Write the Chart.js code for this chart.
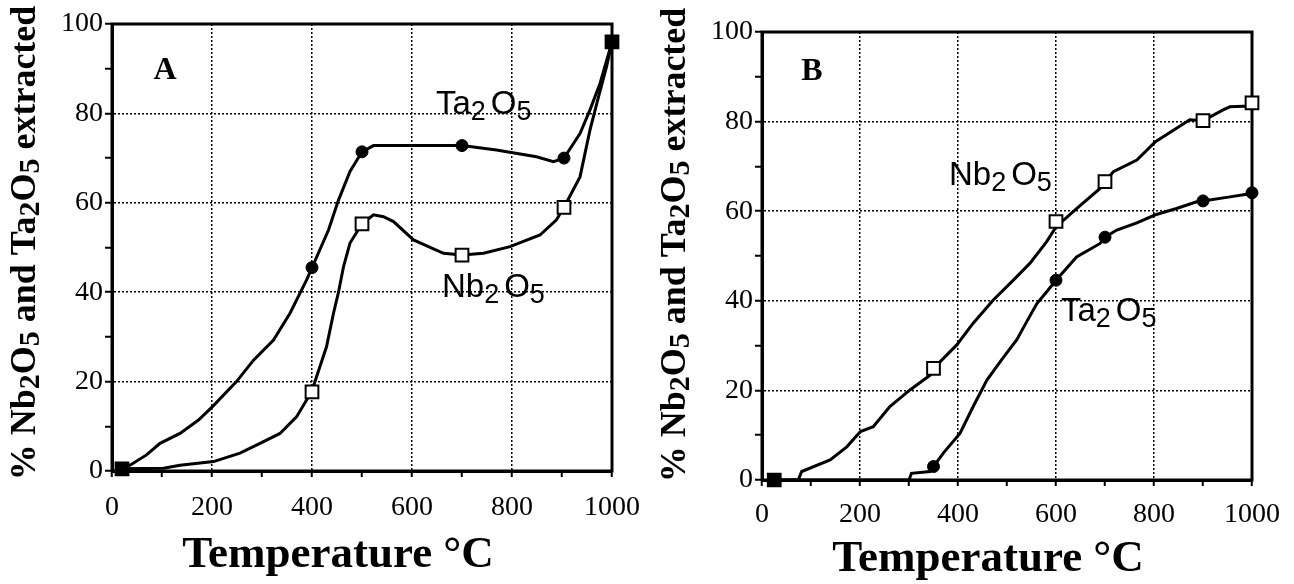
<!DOCTYPE html>
<html>
<head>
<meta charset="utf-8">
<title>Nb2O5 and Ta2O5 extracted vs temperature</title>
<script src="https://cdn.jsdelivr.net/npm/chart.js@4.4.1/dist/chart.umd.min.js"></script>
<style>
  html, body { margin: 0; padding: 0; background: #fff; overflow: hidden; }
  .panel { position: absolute; top: 0; width: 647px; height: 584px; }
  #panelA { left: 0; }
  #panelB { left: 647px; }
</style>
</head>
<body>
<div class="panel" id="panelA"><canvas id="chartA" width="647" height="584"></canvas></div>
<div class="panel" id="panelB"><canvas id="chartB" width="647" height="584"></canvas></div>
<script>
// tick labels
var tempTicks = [0, 200, 400, 600, 800, 1000];
var pctTicks = [0, 20, 40, 60, 80, 100];

// panel A - traced curves (temperature, % extracted)
var tempA_Ta = [20, 36, 69, 96, 136, 173, 201, 249, 283, 323, 356, 389, 400, 433, 453, 476, 500, 523, 600, 700, 769, 849, 883, 904, 936, 956, 976, 1000];
var pctA_Ta  = [0.5, 1.3, 3.6, 6.2, 8.4, 11.4, 14.4, 20, 24.8, 29.3, 35.3, 42.7, 45.5, 53.9, 60.6, 67, 71.4, 72.8, 72.8, 72.8, 71.8, 70.3, 69.2, 70, 75.5, 80.8, 86.7, 96];
var tempA_Nb = [20, 103, 136, 203, 256, 296, 336, 369, 399, 429, 443, 453, 463, 476, 500, 523, 543, 563, 603, 663, 700, 743, 796, 856, 889, 904, 936, 956, 973, 989, 1000];
var pctA_Nb  = [0.5, 0.6, 1.3, 2.1, 4, 6.2, 8.4, 12.1, 17.7, 27.8, 35.3, 40, 45.7, 51, 55.3, 57.3, 56.9, 55.8, 51.7, 48.7, 48.3, 48.7, 50.2, 52.8, 56.2, 59, 65.8, 76.3, 83.7, 90.4, 96];
// panel A - sample markers
var markTempA = [20, 400, 500, 700, 904, 1000];
var markA_Ta  = [0.5, 45.5, 71.4, 72.8, 70, 96];
var markA_Nb  = [0.5, 17.7, 55.3, 48.3, 59, 96];

// panel B - traced curves
var tempB_Nb = [25, 74, 81, 139, 173, 201, 227, 261, 302, 343, 350, 397, 431, 472, 513, 547, 581, 600, 642, 690, 700, 717, 765, 803, 846, 873, 900, 941, 955, 996, 1000];
var pctB_Nb  = [0, 0, 1.9, 4.5, 7.4, 10.8, 11.9, 16.4, 20.1, 23.4, 24.9, 30.1, 35, 40.2, 44.6, 48.4, 53.2, 56.5, 60.6, 65.1, 66.6, 68.8, 71.4, 75.5, 78.5, 80.4, 80.2, 82.6, 83.3, 83.5, 84.2];
var tempB_Ta = [25, 300, 305, 343, 350, 370, 404, 431, 459, 490, 520, 540, 561, 584, 600, 642, 690, 700, 724, 765, 803, 846, 887, 900, 955, 989, 1000];
var pctB_Ta  = [0, 0, 1.5, 1.9, 3, 6, 10.4, 16.4, 22.3, 27, 31.3, 35.3, 39.4, 42.4, 44.6, 49.8, 52.8, 54.2, 55.8, 57.4, 59.2, 60.6, 62.1, 62.3, 63.2, 63.8, 64.1];
// panel B - sample markers
var markTempB = [25, 350, 600, 700, 900, 1000];
var markB_Nb  = [0, 24.9, 57.7, 66.6, 80.2, 84.2];
var markB_Ta  = [0, 3, 44.6, 54.2, 62.3, 64.1];

Chart.defaults.font.family = '"Liberation Serif", "Times New Roman", serif';
Chart.defaults.color = '#000';

function toPoints(xs, ys) {
  return xs.map(function (x, i) { return { x: x, y: ys[i] }; });
}

// text with subscripts
var ta2o5 = [['Ta', false], ['2', true], ['O', false], ['5', true]];
var nb2o5 = [['Nb', false], ['2', true], ['O', false], ['5', true]];
var yTitle = [['% Nb', false], ['2', true], ['O', false], ['5', true], [' and Ta', false], ['2', true],
              ['O', false], ['5', true], [' extracted', false]];
var labelStyle = { weight: 'normal', size: 33, sub: 27, drop: 6, gap: 5, family: '"Liberation Sans", Arial, sans-serif' };
var titleStyle = { weight: 'bold', size: 36, sub: 30, drop: 5, gap: 0, family: '"Liberation Serif", serif' };

function setFont(ctx, st, sub) {
  ctx.font = st.weight + ' ' + (sub ? st.sub : st.size) + 'px ' + st.family;
}
function runWidth(ctx, parts, st) {
  var w = 0;
  parts.forEach(function (p) {
    setFont(ctx, st, p[1]);
    w += ctx.measureText(p[0]).width + (p[1] ? st.gap : 0);
  });
  return w;
}
function drawRun(ctx, parts, x, y, st) {
  parts.forEach(function (p) {
    setFont(ctx, st, p[1]);
    ctx.fillText(p[0], x, p[1] ? y + st.drop : y);
    x += ctx.measureText(p[0]).width + (p[1] ? st.gap : 0);
  });
}

var panelText = {
  id: 'panelText',
  beforeDatasetsDraw: function (chart) {
    var a = chart.chartArea, ctx = chart.ctx;
    ctx.save();
    ctx.strokeStyle = '#000';
    ctx.lineWidth = 3;
    ctx.strokeRect(a.left, a.top, a.right - a.left, a.bottom - a.top);
    ctx.restore();
  },
  afterDraw: function (chart, args, opts) {
    var ctx = chart.ctx;
    ctx.save();
    ctx.fillStyle = '#000';

    ctx.font = 'bold 32px "Liberation Serif", serif';
    ctx.textAlign = 'center';
    ctx.textBaseline = 'middle';
    ctx.fillText(opts.letter, opts.letterAt[0], opts.letterAt[1]);

    ctx.font = 'bold 45px "Liberation Serif", serif';
    ctx.fillText('Temperature °C', opts.xTitleAt[0], opts.xTitleAt[1]);

    ctx.textAlign = 'left';
    ctx.textBaseline = 'alphabetic';
    opts.labels.forEach(function (l) {
      drawRun(ctx, l.parts, l.x, l.y, labelStyle);
    });

    ctx.textBaseline = 'middle';
    var w = runWidth(ctx, yTitle, titleStyle);
    ctx.translate(opts.yTitleAt[0], opts.yTitleAt[1]);
    ctx.rotate(-Math.PI / 2);
    drawRun(ctx, yTitle, -w / 2, 0, titleStyle);
    ctx.restore();
  }
};

function gridColor(ticks, lo, hi) {
  return function (c) {
    if (!c.tick) return 'rgba(0,0,0,0)';
    var v = c.tick.value;
    return (ticks.indexOf(v) >= 0 && v !== lo && v !== hi) ? '#000' : 'rgba(0,0,0,0)';
  };
}

function makeChart(id, cfg) {
  var ctx = document.getElementById(id).getContext('2d');
  return new Chart(ctx, {
    type: 'scatter',
    data: {
      datasets: [
        {
          label: 'Ta2O5 points',
          data: toPoints(cfg.markTemp, cfg.markTa),
          showLine: false,
          pointStyle: 'circle',
          pointRadius: 6,
          pointBackgroundColor: '#000',
          pointBorderColor: '#000',
          pointBorderWidth: 1,
          clip: false
        },
        {
          label: 'Nb2O5 points',
          data: toPoints(cfg.markTemp, cfg.markNb),
          showLine: false,
          pointStyle: 'rect',
          pointRadius: 9,
          pointBackgroundColor: function (c) {
            var i = c.dataIndex;
            return cfg.markNb[i] === cfg.markTa[i] ? '#000' : '#fff';
          },
          pointBorderColor: '#000',
          pointBorderWidth: 2,
          clip: false
        },
        {
          label: 'Ta2O5',
          data: toPoints(cfg.tempTa, cfg.pctTa),
          showLine: true,
          borderColor: '#000',
          borderWidth: 3,
          pointRadius: 0,
          tension: 0
        },
        {
          label: 'Nb2O5',
          data: toPoints(cfg.tempNb, cfg.pctNb),
          showLine: true,
          borderColor: '#000',
          borderWidth: 3,
          pointRadius: 0,
          tension: 0
        }
      ]
    },
    options: {
      responsive: false,
      animation: false,
      layout: { padding: { left: 0, right: cfg.padRight, top: cfg.padTop, bottom: 0 } },
      plugins: {
        legend: { display: false },
        tooltip: { enabled: false },
        panelText: cfg.text
      },
      scales: {
        x: {
          type: 'linear',
          min: 0,
          max: 1000,
          afterFit: function (scale) {
            scale.height = cfg.bottomH;
            // let the end labels hang into the padding instead of shrinking the plot
            scale.paddingLeft = 0;
            scale.paddingRight = 0;
          },
          ticks: {
            stepSize: 100,
            autoSkip: false,
            maxRotation: 0,
            padding: cfg.xPad,
            font: { size: 28 },
            callback: function (v) { return tempTicks.indexOf(v) >= 0 ? String(v) : ''; }
          },
          grid: {
            color: gridColor(tempTicks, 0, 1000),
            lineWidth: 1.5,
            tickColor: '#000',
            tickWidth: 2,
            tickLength: 6
          },
          border: { display: true, color: '#000', width: 3, dash: [2, 2] }
        },
        y: {
          min: 0,
          max: 100,
          afterFit: function (scale) { scale.width = cfg.leftW; },
          ticks: {
            stepSize: 10,
            autoSkip: false,
            padding: 2,
            font: { size: 28 },
            callback: function (v) { return pctTicks.indexOf(v) >= 0 ? String(v) : ''; }
          },
          grid: {
            color: gridColor(pctTicks, 0, 100),
            lineWidth: 1.5,
            tickColor: '#000',
            tickWidth: 2,
            tickLength: 7
          },
          border: { display: true, color: '#000', width: 3, dash: [2, 2] }
        }
      }
    },
    plugins: [panelText]
  });
}

makeChart('chartA', {
  tempTa: tempA_Ta, pctTa: pctA_Ta, tempNb: tempA_Nb, pctNb: pctA_Nb,
  markTemp: markTempA, markTa: markA_Ta, markNb: markA_Nb,
  leftW: 112, padRight: 35, padTop: 24, bottomH: 113, xPad: 14,
  text: {
    letter: 'A', letterAt: [165, 71],
    xTitleAt: [338, 555],
    yTitleAt: [26, 243],
    labels: [
      { parts: ta2o5, x: 436, y: 114 },
      { parts: nb2o5, x: 442, y: 297 }
    ]
  }
});

makeChart('chartB', {
  tempTa: tempB_Ta, pctTa: pctB_Ta, tempNb: tempB_Nb, pctNb: pctB_Nb,
  markTemp: markTempB, markTa: markB_Ta, markNb: markB_Nb,
  leftW: 115, padRight: 42, padTop: 32, bottomH: 104, xPad: 12,
  text: {
    letter: 'B', letterAt: [165, 72],
    xTitleAt: [341, 559],
    yTitleAt: [29, 245],
    labels: [
      { parts: nb2o5, x: 302, y: 185 },
      { parts: ta2o5, x: 414, y: 321 }
    ]
  }
});
</script>
</body>
</html>
